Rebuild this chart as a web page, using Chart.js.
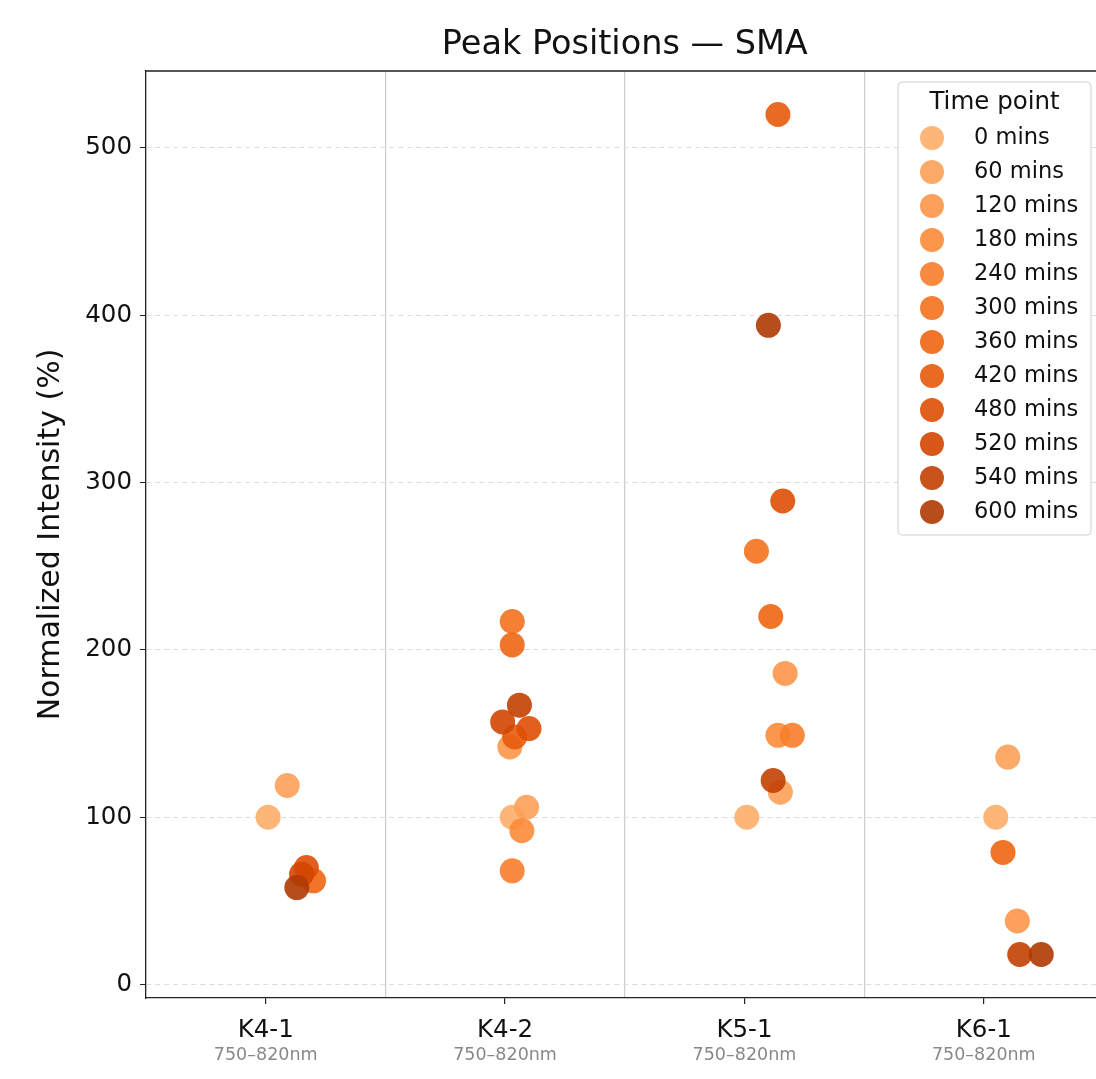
<!DOCTYPE html>
<html>
<head>
<meta charset="utf-8">
<script src="https://cdn.jsdelivr.net/npm/chart.js@4/dist/chart.umd.min.js"></script>
<style>
  html, body { margin: 0; padding: 0; background: #fff; overflow: hidden; }
  #wrap { width: 1116px; height: 1079px; }
</style>
</head>
<body>
<div id="wrap"><canvas id="myChart" width="1116" height="1079"></canvas></div>
<script>
const categories = ["K4-1", "K4-2", "K5-1", "K6-1"];
const subLabels = ["750–820nm", "750–820nm", "750–820nm", "750–820nm"];
const timePoints = ["0 mins", "60 mins", "120 mins", "180 mins", "240 mins", "300 mins",
  "360 mins", "420 mins", "480 mins", "520 mins", "540 mins", "600 mins"];
const yTicks = [0, 100, 200, 300, 400, 500];

// one value per time point, null = not measured
const k41Values = [100, 119, null, null, null, null, 62, null, 70, 66, null, 58];
const k42Values = [100, 106, 142, 92, 68, 217, 203, 148, 153, 157, 167, null];
const k51Values = [100, 115, 186, 149, 149, 259, 220, 520, 289, null, 122, 394];
const k61Values = [100, 136, 38, null, null, null, 79, null, null, null, 18, 18];

// strip jitter (fraction of a category)
const k41Jitter = [0.01, 0.09, null, null, null, null, 0.20, null, 0.17, 0.15, null, 0.13];
const k42Jitter = [0.03, 0.09, 0.02, 0.07, 0.03, 0.03, 0.03, 0.04, 0.10, -0.01, 0.06, null];
const k51Jitter = [0.01, 0.15, 0.17, 0.14, 0.20, 0.05, 0.11, 0.14, 0.16, null, 0.12, 0.10];
const k61Jitter = [0.05, 0.10, 0.14, null, null, null, 0.08, null, null, null, 0.15, 0.24];

const allValues = [k41Values, k42Values, k51Values, k61Values];
const allJitter = [k41Jitter, k42Jitter, k51Jitter, k61Jitter];

// matplotlib "Oranges"
const oranges = [[0, "#fff5eb"], [0.125, "#fee6ce"], [0.25, "#fdd0a2"], [0.375, "#fdae6b"],
  [0.5, "#fd8d3c"], [0.625, "#f16913"], [0.75, "#d94801"], [0.875, "#a63603"], [1, "#7f2704"]];
function hex(h) { return [1, 3, 5].map(i => parseInt(h.substr(i, 2), 16)); }
function orangeAt(t, a) {
  for (let i = 0; i < oranges.length - 1; i++) {
    const [t0, c0] = oranges[i], [t1, c1] = oranges[i + 1];
    if (t >= t0 && t <= t1) {
      const f = (t - t0) / (t1 - t0), p = hex(c0), q = hex(c1);
      const c = p.map((v, k) => Math.round(v + (q[k] - v) * f));
      return `rgba(${c[0]},${c[1]},${c[2]},${a})`;
    }
  }
}
const colors = timePoints.map((_, i) => orangeAt(0.38 + i * (0.85 - 0.38) / 11, 0.9));

const datasets = timePoints.map((tp, i) => ({
  label: tp,
  data: categories.map((c, k) => allValues[k][i] == null ? null :
    { x: k + allJitter[k][i], y: allValues[k][i] }).filter(p => p),
  backgroundColor: colors[i],
  borderWidth: 0,
  pointRadius: 12.5,
  pointHoverRadius: 12.5,
  order: timePoints.length - i,
}));

const FONT = "'DejaVu Sans', sans-serif";
Chart.defaults.font.family = FONT;
Chart.defaults.color = "#111";

const extras = {
  id: "extras",
  afterDraw(chart) {
    const { ctx, chartArea: a, scales } = chart;
    ctx.save();
    // top and right spines
    ctx.strokeStyle = "#222";
    ctx.lineWidth = 1.3;
    ctx.beginPath();
    ctx.moveTo(a.left, a.top); ctx.lineTo(a.right, a.top); ctx.lineTo(a.right, a.bottom);
    ctx.stroke();
    // title over the plot area
    ctx.fillStyle = "#111";
    ctx.font = "33.5px " + FONT;
    ctx.textAlign = "center";
    ctx.textBaseline = "middle";
    ctx.fillText("Peak Positions — SMA", (a.left + a.right) / 2, 45);
    // grey sub labels
    ctx.fillStyle = "#888";
    ctx.font = "17.5px " + FONT;
    subLabels.forEach((s, i) => ctx.fillText(s, scales.x.getPixelForValue(i), 1055));
    // legend
    const bx = 898, by = 82, bw = 193, bh = 453;
    ctx.fillStyle = "rgba(255,255,255,0.85)";
    ctx.strokeStyle = "#d0d0d0";
    ctx.lineWidth = 1;
    ctx.beginPath();
    ctx.roundRect(bx, by, bw, bh, 4);
    ctx.fill(); ctx.stroke();
    ctx.fillStyle = "#111";
    ctx.font = "24.5px " + FONT;
    ctx.textAlign = "center";
    ctx.fillText("Time point", bx + bw / 2, 103);
    ctx.textAlign = "left";
    ctx.font = "22.5px " + FONT;
    timePoints.forEach((tp, i) => {
      const y = 138 + i * 34;
      ctx.fillStyle = colors[i];
      ctx.beginPath(); ctx.arc(932, y, 12, 0, Math.PI * 2); ctx.fill();
      ctx.fillStyle = "#111";
      ctx.fillText(tp, 974, y);
    });
    ctx.restore();
  },
};

new Chart(document.getElementById("myChart"), {
  type: "scatter",
  data: { datasets },
  plugins: [extras],
  options: {
    responsive: false,
    animation: false,
    layout: { padding: { left: 0, right: 0, top: 71, bottom: 0 } },
    plugins: {
      legend: { display: false },
      tooltip: { enabled: false },
      title: { display: false },
    },
    scales: {
      x: {
        type: "linear",
        min: -0.5,
        max: 3.5,
        afterFit: (s) => { s.height = 81; },
        afterBuildTicks: (s) => {
          s.ticks = [];
          for (let v = -0.5; v <= 3.5; v += 0.5) s.ticks.push({ value: v });
        },
        ticks: {
          autoSkip: false,
          maxRotation: 0,
          padding: 12,
          color: "#111",
          font: { size: 24.5 },
          callback: (v) => Number.isInteger(v) ? categories[v] : "",
        },
        grid: {
          color: (c) => {
            const v = c.tick ? c.tick.value : 0;
            return (!Number.isInteger(v) && v > -0.5 && v < 3.5) ? "#cccccc" : "rgba(0,0,0,0)";
          },
          lineWidth: 1.2,
          tickLength: 6,
          tickColor: (c) => (c.tick && Number.isInteger(c.tick.value)) ? "#222" : "rgba(0,0,0,0)",
        },
        border: { color: "#222", width: 1.3 },
      },
      y: {
        min: -8,
        max: 546,
        afterFit: (s) => { s.width = 146; },
        afterBuildTicks: (s) => { s.ticks = yTicks.map(v => ({ value: v })); },
        ticks: { color: "#111", font: { size: 24.5 }, padding: 8 },
        grid: { color: "#dcdcdc", lineWidth: 1, tickLength: 6, tickColor: "#222", tickBorderDash: [] },
        border: { color: "#222", width: 1.3, dash: [5, 4] },
        title: {
          display: true,
          text: "Normalized Intensity (%)",
          color: "#111",
          font: { size: 30 },
          padding: { top: 33, bottom: 0 },
        },
      },
    },
  },
});
</script>
</body>
</html>
